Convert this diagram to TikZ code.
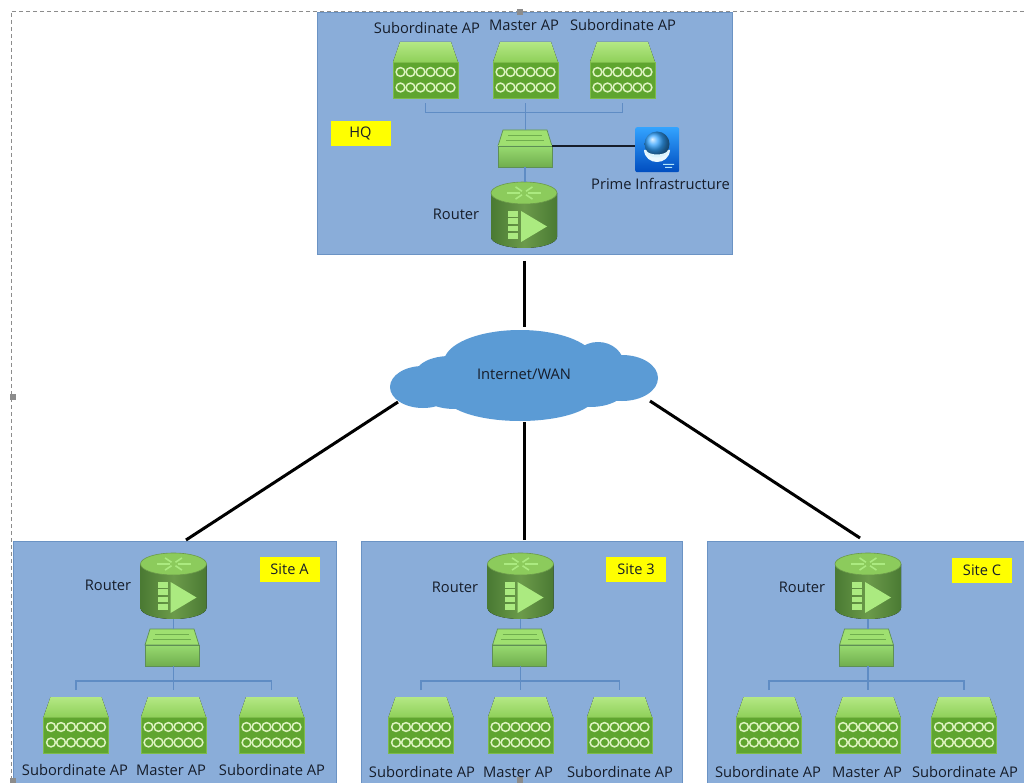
\documentclass[tikz,border=0pt]{standalone}
\usepackage{fontspec}
\setmainfont{Open Sans}
\usetikzlibrary{calc}
\definecolor{boxfill}{HTML}{8AADD9}
\definecolor{boxline}{HTML}{6B93C4}
\definecolor{cloudblue}{HTML}{5B9BD5}
\definecolor{yel}{HTML}{FFFF00}
\definecolor{ink}{HTML}{161D2A}
\definecolor{busblue}{HTML}{5F8CC4}
\definecolor{aptop}{HTML}{B4E884}
\definecolor{aptopb}{HTML}{8FD05A}
\definecolor{apbody}{HTML}{5FA52F}
\definecolor{apedge}{HTML}{7DBB4A}
\definecolor{apdot}{HTML}{DDF3C0}
\definecolor{swtop}{HTML}{9FE070}
\definecolor{swbody}{HTML}{98DA70}
\definecolor{swbodyb}{HTML}{70AE4E}
\definecolor{swedge}{HTML}{5E8F55}
\definecolor{rbody}{HTML}{4A7A33}
\definecolor{rbodyb}{HTML}{6B9A4A}
\definecolor{rtop}{HTML}{8CCB5C}
\definecolor{rlight}{HTML}{ABEA80}
\definecolor{selgray}{HTML}{8C8C8C}
\tikzset{
  panel/.style={draw=boxline,line width=1pt,fill=boxfill},
  tag/.style={fill=yel,inner sep=0pt,minimum width=60pt,minimum height=25pt,text=ink,font=\fontsize{14.6}{16}\selectfont},
  lbl/.style={text=ink,inner sep=0pt,font=\fontsize{14.7}{16}\selectfont},
  bus/.style={draw=busblue,line width=1.1pt},
  wan/.style={draw=black,line width=3pt},
  sel/.style={draw=selgray,line width=.7pt,dash pattern=on 4pt off 3pt},
  handle/.style={fill=selgray,inner sep=0pt,minimum size=6pt}
}
\newcommand{\apicon}[3]{%
  \begin{scope}[shift={(#2,#3)}]
    \fill[top color=aptop,bottom color=aptopb] (-25.5,0) -- (25.5,0) -- (32.5,20) -- (-32.5,20) -- cycle;
    \fill[apbody,draw=apedge,line width=.8pt] (-32.5,20) rectangle (32.5,56);
    \foreach \r in {30,45.5}{\foreach \c in {-25,-15,-5,5,15,25}{
      \draw[apdot,line width=1.5pt] (\c,\r) circle [radius=4.4];}}
  \end{scope}
  \node[minimum width=65pt,minimum height=56pt,inner sep=0pt,anchor=north] (#1) at (#2,#3) {};}
\newcommand{\swicon}[3]{%
  \begin{scope}[shift={(#2,#3)}]
    \fill[swtop,draw=swedge,line width=.7pt] (-22,0) -- (22,0) -- (27,16) -- (-27,16) -- cycle;
    \draw[swbodyb,line width=.6pt] (-17,5) -- (17,5) (-19,10) -- (19,10);
    \fill[top color=swbody,bottom color=swbodyb,draw=swedge,line width=.7pt] (-27,16) rectangle (27,37);
  \end{scope}
  \node[minimum width=54pt,minimum height=37pt,inner sep=0pt,anchor=north] (#1) at (#2,#3) {};}
\newcommand{\roicon}[3]{%
  \begin{scope}[shift={(#2,#3)}]
    \fill[left color=rbody,right color=rbody,middle color=rbodyb] (-33,11) -- (-33,55) arc[start angle=180,end angle=360,x radius=33,y radius=-11] -- (33,11) -- cycle;
    \fill[rtop,draw=rbodyb,line width=.6pt] (0,11) ellipse [x radius=33,y radius=11];
    \foreach \a in {0,60,120,180,240,300}{\draw[rlight,line width=1.6pt] (\a:4 and 2)++(0,11) -- ++(\a:13 and 5);}
    \foreach \r in {32,39,46.5,54}{\fill[rlight] (-16,\r-2.7) rectangle (-6,\r+2.7);}
    \fill[rlight] (-3,29) -- (23,44.5) -- (-3,60) -- cycle;
  \end{scope}
  \node[minimum width=66pt,minimum height=66pt,inner sep=0pt,anchor=north] (#1) at (#2,#3) {};}
\begin{document}
\begin{tikzpicture}[x=1pt,y=-1pt]
\useasboundingbox (0,0) rectangle (1024,783);
\fill[white] (0,0) rectangle (1024,783);
% selection frame
\coordinate (selTL) at (11,11);
\coordinate (selTR) at (1024,11);
\coordinate (selBL) at (11,783);
\draw[sel] (selTR) -- (selTL) -- (selBL);
% panels
\node[panel,anchor=north west,minimum width=415pt,minimum height=242pt,inner sep=0pt] (hq) at (317,12) {};
\node[panel,anchor=north west,minimum width=323pt,minimum height=243pt,inner sep=0pt] (sa) at (13,541) {};
\node[panel,anchor=north west,minimum width=321pt,minimum height=243pt,inner sep=0pt] (sb) at (361,541) {};
\node[panel,anchor=north west,minimum width=320pt,minimum height=243pt,inner sep=0pt] (sc) at (707,541) {};
\node[handle] (h1) at (520,12) {};
\node[handle] (h2) at (13,397) {};
\node[handle] (h3) at (520,780) {};
\node[handle] (h4) at (13,781) {};
% cloud
\fill[cloudblue] (423,387) ellipse [x radius=33,y radius=21]
  (450,373) ellipse [x radius=34,y radius=17]
  (520,362) ellipse [x radius=76,y radius=32]
  (598,365) ellipse [x radius=26,y radius=23]
  (622,378) ellipse [x radius=36,y radius=23]
  (520,395) ellipse [x radius=76,y radius=26]
  (455,391) ellipse [x radius=36,y radius=18]
  (590,388) ellipse [x radius=36,y radius=19];
\node[lbl] (cloud) at (524,374) {Internet/WAN};
% WAN connectors
\coordinate (cN) at (524.5,327);
\coordinate (cS) at (524.5,422);
\coordinate (cW) at (398,402);
\coordinate (cE) at (650,401);
\coordinate (hqS) at (524.5,261);
\coordinate (saN) at (186,540);
\coordinate (sbN) at (524.5,540);
\coordinate (scN) at (860,538);
\draw[wan] (hqS) -- (cN);
\draw[wan] (cS) -- (sbN);
\draw[wan] (cW) -- (saN);
\draw[wan] (cE) -- (scN);
% HQ
\apicon{ha}{425.5}{42}\apicon{hb}{525.5}{42}\apicon{hc}{622.5}{42}
\swicon{hs}{525}{130}\roicon{hr}{524}{182}
\node[lbl] (hl1) at (427,28) {Subordinate AP};
\node[lbl] (hl2) at (524,25) {Master AP};
\node[lbl] (hl3) at (623,25) {Subordinate AP};
\node[lbl] (hrl) at (456,214) {Router};
\node[tag] (hqt) at (360.5,133.5) {HQ};
\node[inner sep=0pt,minimum width=44pt,minimum height=45pt,rounded corners=2pt,top color=cyan!55!blue!80!white,bottom color=blue!60!cyan!75!black,anchor=north west] (pi) at (635,127) {};
\fill[white!92!cyan] (644,150) .. controls (645,166) and (669,166) .. (670,150) -- cycle;
\shade[ball color=cyan!55!blue!80!white] (657,144) circle [radius=12.5];
\fill[white!85!cyan] (645,150) .. controls (650,156) and (664,156) .. (669,150) .. controls (667,160) and (647,160) .. (645,150) -- cycle;
\fill[white!70!cyan] (663,164) rectangle (674,165) (665,167) rectangle (672,168);
\node[lbl] (pil) at (660.5,184) {Prime Infrastructure};
\draw[bus] ([yshift=-5pt]ha.south) -- ++(0,9) -| ([yshift=-5pt]hc.south);
\draw[bus] ([yshift=-5pt]hb.south) -- (hb.south |- hs.north);
\draw[bus] (hs.south) -- (hs.south |- hr.north);
\coordinate (piy) at (0,146);
\draw[draw=ink,line width=1.3pt] (hs.east |- piy) -- (pi.west |- piy);
% Site A
\roicon{ar}{173.5}{553}\swicon{as}{172}{629}
\apicon{a1}{76}{697}\apicon{a2}{173.5}{697}\apicon{a3}{271.5}{697}
\node[tag] (at) at (289.5,569.5) {Site A};
\node[lbl] (arl) at (108,585) {Router};
\node[lbl] (al1) at (75,770) {Subordinate AP};
\node[lbl] (al2) at (171,770) {Master AP};
\node[lbl] (al3) at (272,770) {Subordinate AP};
\draw[bus] (ar.south) -- (ar.south |- as.north);
\draw[bus] (ar.south |- as.south) -- ([yshift=7pt]a2.north);
\draw[bus] ([yshift=7pt]a1.north) -- ++(0,-9) -| ([yshift=7pt]a3.north);
% Site B
\roicon{br}{520.5}{553}\swicon{bs}{519.5}{629}
\apicon{b1}{421}{697}\apicon{b2}{520.5}{697}\apicon{b3}{619.5}{697}
\node[tag] (bt) at (636,569.5) {Site 3};
\node[lbl] (brl) at (455,587) {Router};
\node[lbl] (bl1) at (422,772) {Subordinate AP};
\node[lbl] (bl2) at (518,772) {Master AP};
\node[lbl] (bl3) at (620,772) {Subordinate AP};
\draw[bus] (br.south) -- (br.south |- bs.north);
\draw[bus] (br.south |- bs.south) -- ([yshift=7pt]b2.north);
\draw[bus] ([yshift=7pt]b1.north) -- ++(0,-9) -| ([yshift=7pt]b3.north);
% Site C
\roicon{cr}{868}{553}\swicon{cs}{866.5}{629}
\apicon{c1}{769}{697}\apicon{c2}{868}{697}\apicon{c3}{964}{697}
\node[tag] (ct) at (982,570) {Site C};
\node[lbl] (crl) at (802,587) {Router};
\node[lbl] (cl1) at (768,772) {Subordinate AP};
\node[lbl] (cl2) at (867,772) {Master AP};
\node[lbl] (cl3) at (965,772) {Subordinate AP};
\draw[bus] (cr.south) -- (cr.south |- cs.north);
\draw[bus] (cr.south |- cs.south) -- ([yshift=7pt]c2.north);
\draw[bus] ([yshift=7pt]c1.north) -- ++(0,-9) -| ([yshift=7pt]c3.north);
\end{tikzpicture}
\end{document}
